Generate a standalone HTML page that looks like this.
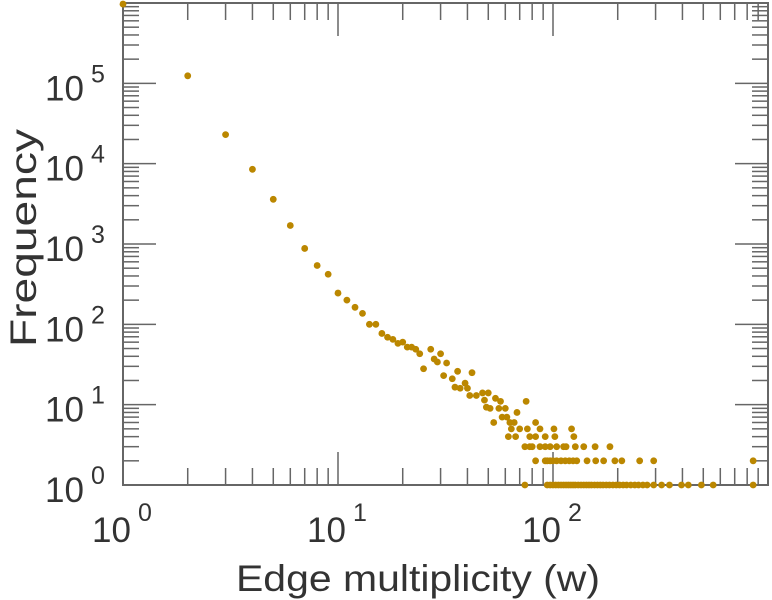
<!DOCTYPE html>
<html><head><meta charset="utf-8"><style>
html,body{margin:0;padding:0;background:#fff;}
svg{display:block;font-family:"Liberation Sans",sans-serif;}
</style></head><body>
<svg id="chart" width="772" height="600" viewBox="0 0 772 600" xmlns="http://www.w3.org/2000/svg">
<g id="axes"></g>
<g id="points"></g>
<text x="418" y="591" font-size="37" fill="#333" text-anchor="middle" textLength="364" lengthAdjust="spacingAndGlyphs">Edge multiplicity (w)</text>
<text transform="translate(36,238) rotate(-90)" font-size="37" fill="#333" text-anchor="middle" textLength="218" lengthAdjust="spacingAndGlyphs">Frequency</text>
</svg>
<script>
const xDecades = [0, 1, 2];
const yDecades = [0, 1, 2, 3, 4, 5];
const wValues = [1,2,3,4,5,6,7,8,9,10,11,12,13,14,15,16,17,18,19,20,21,22,23,24,25,27,28,29,30,31,32,34,35,36,37,39,40,41,42,44,47,48,49,50,51,53,54,57,56,58,60,61,63,66,68,75,83,87,92,101,102,122,125,
64,70,76,62,67,78,83,
74,78,80,87,92,97,104,112,115,127,139,157,184,
83,92,94,97,100,104,109,114,119,124,129,144,158,172,194,209,253,294,853,
74,94,97,100,103,106,109,112,115,118,121,124,127,131,135,139,143,147,151,156,161,166,171,177,183,190,197,204,212,220,230,240,250,262,274,294,320,348,396,426,490,556,853];
const freqValues = [970000,124000,23000,8500,3600,1700,880,540,420,245,200,163,137,100,100,77,69,65,58,60,52,52,49,43,28,49,37,34,43,23,33,21,16.5,26,16,18.5,16,13,25,13,14,11.4,9.3,14,9,6,12,11,9,7,9,7,6,6,8,11,6,5,4,5,4,5,4,
5,5,5,4,4,4,4,
3,3,3,3,3,3,3,3,3,3,3,3,3,
2,2,2,2,2,2,2,2,2,2,2,2,2,2,2,2,2,2,2,
1,1,1,1,1,1,1,1,1,1,1,1,1,1,1,1,1,1,1,1,1,1,1,1,1,1,1,1,1,1,1,1,1,1,1,1,1,1,1,1,1,1,1];

const L=123,R=768,T=3,B=485;
const xs = v => L + (R-L)*Math.log10(v)/3;
const ys = v => B - (B-T)*Math.log10(v)/6;
const NS="http://www.w3.org/2000/svg";
function mk(tag, attrs, parent){const e=document.createElementNS(NS,tag);for(const k in attrs)e.setAttribute(k,attrs[k]);parent.appendChild(e);return e;}
const axes=document.getElementById('axes');
const stroke="#666";
for(let d=0; d<3; d++){
  for(let m=1;m<10;m++){
    const x=xs(m*Math.pow(10,d));
    const len = m===1?33:17;
    const t1=mk('line',{x1:x,x2:x,y1:B,y2:B-len,stroke:stroke,'stroke-width':1.5},axes);
    
    
    const t2=mk('line',{x1:x,x2:x,y1:T,y2:T+len,stroke:stroke,'stroke-width':1.5},axes);
    
    
  }
}
for(let d=0; d<6; d++){
  for(let m=1;m<10;m++){
    const y=ys(m*Math.pow(10,d));
    const len = m===1?33:16;
    const t1=mk('line',{x1:L,x2:L+len,y1:y,y2:y,stroke:stroke,'stroke-width':1.5},axes);
    
    
    const t2=mk('line',{x1:R,x2:R-len,y1:y,y2:y,stroke:stroke,'stroke-width':1.5},axes);
    
    
  }
}
const frame=mk('rect',{x:L,y:T,width:R-L,height:B-T,fill:'none',stroke:stroke,'stroke-width':2},axes);


xDecades.forEach(d=>{
  const x=xs(Math.pow(10,d));
  const t=mk('text',{x:x-31,y:542,'font-size':35,fill:'#333'},axes);
  
  
  t.textContent='10';
  const s=mk('text',{x:x+15,y:521,'font-size':25,fill:'#333'},axes);
  
  
  s.textContent=String(d);
});
yDecades.forEach(d=>{
  const y=ys(Math.pow(10,d));
  const t=mk('text',{x:45,y:y+17,'font-size':35,fill:'#333'},axes);
  
  
  t.textContent='10';
  const s=mk('text',{x:91,y:y-1,'font-size':25,fill:'#333'},axes);
  
  
  s.textContent=String(d);
});
const pts=document.getElementById('points');
wValues.forEach((w,i)=>{
  const c=mk('circle',{cx:xs(w),cy:ys(freqValues[i]),r:3.4,fill:'#bb8700'},pts);
  
  
});
</script>
</body></html>
